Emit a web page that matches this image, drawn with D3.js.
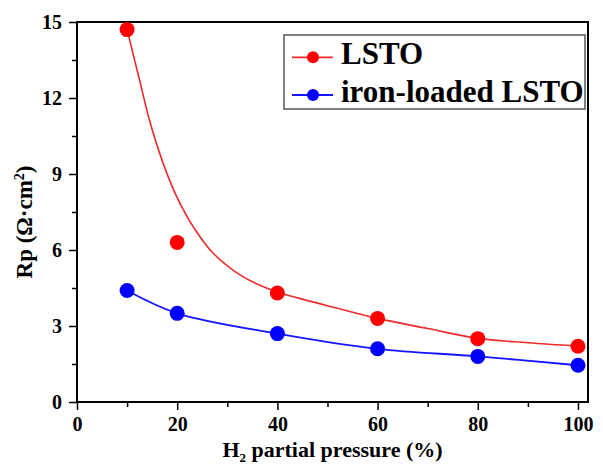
<!DOCTYPE html>
<meta charset="utf-8">
<script src="https://d3js.org/d3.v7.min.js"></script>
<style>
  body { margin: 0; background: #fff; }
  text { font-family: "Liberation Serif", "Times New Roman", serif; font-weight: bold; }
</style>
<div id="my_dataviz"></div>
<script>

// measured values
var pressure = [10, 20, 40, 60, 80, 100];
var rpLSTO = [14.7, 6.3, 4.3, 3.3, 2.5, 2.2];
var rpIron = [4.4, 3.5, 2.7, 2.1, 1.8, 1.45];

// fitted curve for LSTO
var fitX = [10, 12.5, 14.5, 17.2, 19.9, 23.2, 27.2, 33.1, 39.8, 44.4, 52, 60, 70, 80, 90, 100];
var fitLSTO = [14.7, 12.7, 11.1, 9.42, 8.11, 6.92, 5.87, 4.95, 4.35, 4.09, 3.7, 3.3, 2.9, 2.51, 2.34, 2.21];

var xTicks = [0, 20, 40, 60, 80, 100];
var yTicks = [0, 3, 6, 9, 12, 15];

var margin = {top: 22, right: 15, bottom: 64, left: 77},
    width = 603 - margin.left - margin.right,
    height = 466 - margin.top - margin.bottom;

var svg = d3.select("#my_dataviz")
  .append("svg")
    .attr("width", 603)
    .attr("height", 466)
  .append("g")
    .attr("transform", "translate(" + margin.left + "," + margin.top + ")");

var x = d3.scaleLinear().domain([0, 102]).range([0, width]);
var y = d3.scaleLinear().domain([0, 15]).range([height, 0]);

// minor ticks
svg.append("g")
  .attr("transform", "translate(0," + height + ")")
  .call(d3.axisBottom(x).tickValues(d3.range(10, 101, 20)).tickSize(5).tickFormat(""))
  .call(g => g.select(".domain").remove())
  .selectAll("line").attr("stroke-width", 1.5);
svg.append("g")
  .call(d3.axisLeft(y).tickValues(d3.range(1.5, 15, 3)).tickSize(5).tickFormat(""))
  .call(g => g.select(".domain").remove())
  .selectAll("line").attr("stroke-width", 1.5);

// X axis
var xAxis = svg.append("g")
  .attr("transform", "translate(0," + height + ")")
  .call(d3.axisBottom(x).tickValues(xTicks).tickSize(8).tickPadding(7));
xAxis.select(".domain").remove();
xAxis.selectAll("line").attr("stroke-width", 1.5);
xAxis.selectAll("text").attr("font-size", 20).attr("fill", "#000");

// Y axis
var yAxis = svg.append("g")
  .call(d3.axisLeft(y).tickValues(yTicks).tickSize(8).tickPadding(7));
yAxis.select(".domain").remove();
yAxis.selectAll("line").attr("stroke-width", 1.5);
yAxis.selectAll("text").attr("font-size", 20).attr("fill", "#000");

// frame
svg.append("rect")
  .attr("width", width).attr("height", height)
  .attr("fill", "none").attr("stroke", "#000").attr("stroke-width", 2);

// curves
svg.append("path")
  .datum(d3.zip(fitX, fitLSTO))
  .attr("fill", "none").attr("stroke", "#ee2b2b").attr("stroke-width", 1.6)
  .attr("d", d3.line().curve(d3.curveCatmullRom.alpha(0.5))
    .x(d => x(d[0])).y(d => y(d[1])));

svg.append("path")
  .datum(d3.zip(pressure, rpIron))
  .attr("fill", "none").attr("stroke", "#1515ff").attr("stroke-width", 1.8)
  .attr("d", d3.line().curve(d3.curveCatmullRom.alpha(0.5))
    .x(d => x(d[0])).y(d => y(d[1])));

// points
svg.selectAll("circle.lsto")
  .data(d3.zip(pressure, rpLSTO)).enter().append("circle")
  .attr("class", "lsto")
  .attr("cx", d => x(d[0])).attr("cy", d => y(d[1])).attr("r", 7.5)
  .attr("fill", "#ff0000");

svg.selectAll("circle.iron")
  .data(d3.zip(pressure, rpIron)).enter().append("circle")
  .attr("class", "iron")
  .attr("cx", d => x(d[0])).attr("cy", d => y(d[1])).attr("r", 7.5)
  .attr("fill", "#0000ff");

// axis titles
var xt = svg.append("text")
  .attr("x", width / 2).attr("y", height + 54.5)
  .attr("text-anchor", "middle").attr("font-size", 22);
xt.append("tspan").text("H");
xt.append("tspan").attr("font-size", 13).attr("dy", 5).text("2");
xt.append("tspan").attr("dy", -5).text(" partial pressure (%)");

var yt = svg.append("text")
  .attr("transform", "translate(" + (-45) + "," + (height / 2 + 10) + ") rotate(-90)")
  .attr("text-anchor", "middle").attr("font-size", 23);
yt.append("tspan").text("Rp (Ω·cm");
yt.append("tspan").attr("font-size", 14).attr("dy", -8).text("2");
yt.append("tspan").attr("dy", 8).text(")");

// legend
var legend = svg.append("g").attr("transform", "translate(" + (284 - margin.left) + "," + (35 - margin.top) + ")");
legend.append("rect")
  .attr("width", 301).attr("height", 74)
  .attr("fill", "#fff").attr("stroke", "#555").attr("stroke-width", 1.5);

var items = [{name: "LSTO", color: "#ff0000", line: "#ee2b2b"},
             {name: "iron-loaded LSTO", color: "#0000ff", line: "#1515ff"}];
items.forEach(function(it, i) {
  var cy = 22.3 + i * 37.7;
  legend.append("line").attr("x1", 8).attr("x2", 49).attr("y1", cy).attr("y2", cy)
    .attr("stroke", it.line).attr("stroke-width", 1.8);
  legend.append("circle").attr("cx", 29).attr("cy", cy).attr("r", 6).attr("fill", it.color);
  legend.append("text").attr("x", 57).attr("y", cy + 6.7)
    .attr("font-size", 31).text(it.name);
});

</script>
